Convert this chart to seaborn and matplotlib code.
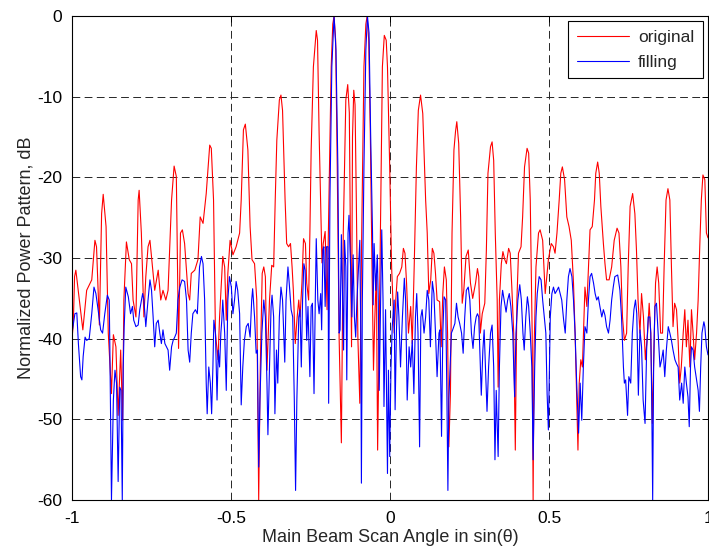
import numpy as np
import matplotlib
matplotlib.use('Agg')
import matplotlib.pyplot as plt
import seaborn as sns

# pattern values (sin(theta), dB)
orig_x = [-1.000, -0.996, -0.992, -0.988, -0.966, -0.954, -0.938, -0.928, -0.923, -0.914,
          -0.907, -0.902, -0.893, -0.886, -0.876, -0.870, -0.862, -0.855, -0.847, -0.841,
          -0.837, -0.829, -0.820, -0.813, -0.808, -0.799, -0.792, -0.789, -0.782, -0.774,
          -0.768, -0.761, -0.755, -0.747, -0.740, -0.729, -0.721, -0.714, -0.705, -0.698,
          -0.687, -0.679, -0.672, -0.665, -0.659, -0.653, -0.646, -0.635, -0.630, -0.625,
          -0.614, -0.604, -0.597, -0.588, -0.578, -0.567, -0.562, -0.555, -0.549, -0.541,
          -0.536, -0.526, -0.520, -0.515, -0.510, -0.503, -0.494, -0.484, -0.473,
          -0.468, -0.461, -0.455, -0.447, -0.440, -0.434, -0.426, -0.419, -0.413, -0.408,
          -0.402, -0.397, -0.392, -0.387, -0.379, -0.372, -0.366, -0.361, -0.356, -0.348,
          -0.343, -0.338, -0.330, -0.325, -0.319, -0.313, -0.308, -0.304, -0.298, -0.292,
          -0.287, -0.283, -0.277, -0.272, -0.266, -0.262, -0.256, -0.252, -0.248, -0.241,
          -0.232, -0.228, -0.223, -0.214, -0.210, -0.204, -0.198, -0.191, -0.185, -0.180,
          -0.176, -0.171, -0.166, -0.160, -0.153, -0.147, -0.139, -0.133, -0.128, -0.124,
          -0.121, -0.118, -0.114, -0.110, -0.106, -0.101, -0.095, -0.089, -0.082, -0.076,
          -0.072, -0.067, -0.062, -0.057, -0.052, -0.048, -0.043, -0.039, -0.034, -0.029,
          -0.024, -0.018, -0.012, -0.008, -0.001, 0.005, 0.013, 0.018, 0.023, 0.030,
          0.037, 0.042, 0.047, 0.052, 0.058, 0.065, 0.070, 0.076, 0.083, 0.089,
          0.096, 0.103, 0.112, 0.117, 0.122, 0.128, 0.133, 0.138, 0.143, 0.148,
          0.156, 0.161, 0.166, 0.171, 0.177, 0.181, 0.185, 0.190, 0.195, 0.201,
          0.206, 0.210, 0.216, 0.222, 0.227, 0.232, 0.239, 0.246, 0.253, 0.260,
          0.269, 0.275, 0.279, 0.284, 0.290, 0.298, 0.303, 0.308, 0.316, 0.321,
          0.326, 0.331, 0.337, 0.340, 0.344, 0.350, 0.355, 0.361, 0.366, 0.373,
          0.378, 0.383, 0.389, 0.394, 0.399, 0.404, 0.412, 0.417, 0.423, 0.431,
          0.436, 0.441, 0.447, 0.450, 0.453, 0.459, 0.467, 0.472, 0.480, 0.488,
          0.498, 0.507, 0.514, 0.519, 0.525, 0.532, 0.537, 0.542, 0.549, 0.556,
          0.563, 0.570, 0.577, 0.582, 0.587, 0.591, 0.595, 0.600, 0.605, 0.610,
          0.613, 0.619, 0.624, 0.629, 0.636, 0.643, 0.647, 0.653, 0.658, 0.663,
          0.671, 0.676, 0.681, 0.689, 0.697, 0.705, 0.714, 0.720, 0.726, 0.731,
          0.737, 0.744, 0.749, 0.755, 0.763, 0.770, 0.775, 0.780, 0.786, 0.791,
          0.797, 0.803, 0.810, 0.815, 0.820, 0.825, 0.831, 0.835, 0.840, 0.845,
          0.851, 0.857, 0.862, 0.868, 0.874, 0.880, 0.885, 0.890, 0.895, 0.901,
          0.906, 0.911, 0.916, 0.922, 0.927, 0.932, 0.937, 0.943, 0.948, 0.953,
          0.958, 0.964, 0.969, 0.974, 0.979, 0.984, 0.990, 0.995, 1.000]
orig_db = [-40.0, -38.1, -32.3, -31.5, -38.9, -34.0, -32.7, -27.8, -28.6, -38.3,
           -24.5, -22.1, -26.1, -39.3, -46.8, -39.5, -41.0, -49.5, -41.4, -50.1,
           -35.2, -28.0, -30.2, -30.7, -35.2, -37.3, -22.8, -21.6, -26.9, -37.3,
           -32.3, -28.6, -27.8, -31.1, -34.0, -31.5, -35.2, -34.0, -35.2, -34.0,
           -22.8, -18.6, -19.9, -41.2, -26.9, -26.5, -28.2, -34.4, -35.2, -31.9,
           -31.5, -30.2, -24.9, -25.7, -22.0, -16.0, -16.4, -22.8, -39.3, -42.6,
           -37.3, -29.8, -31.1, -37.7, -31.9, -27.8, -29.6, -28.6, -26.9,
           -22.8, -14.1, -13.4, -16.6, -26.1, -30.2, -30.7, -35.2, -60.0, -43.5,
           -31.9, -31.1, -32.3, -43.9, -35.2, -30.9, -31.1, -22.8, -15.4, -10.4,
           -9.8, -11.7, -22.8, -28.2, -28.6, -28.2, -31.1, -34.0, -40.6, -37.3,
           -35.2, -37.3, -33.1, -27.6, -28.2, -33.1, -35.2, -26.9, -16.6, -6.3,
           -1.8, -3.0, -14.5, -30.6, -28.2, -26.7, -36.4, -19.9, -6.3, -1.0,
           0.0, -3.0, -18.7, -40.0, -52.9, -26.9, -10.4, -8.5, -12.0, -30.0,
           -41.0, -15.0, -9.2, -11.0, -22.8, -40.0, -48.0, -26.9, -6.3, -1.0,
           0.0, -3.0, -14.5, -30.0, -43.9, -37.7, -31.9, -53.8, -39.3, -22.8,
           -6.3, -2.4, -3.0, -6.3, -18.7, -31.1, -39.3, -35.2, -32.3, -31.9,
           -31.1, -28.8, -29.4, -33.1, -39.3, -36.0, -40.6, -31.1, -18.7, -11.7,
           -9.8, -12.1, -22.8, -26.9, -34.4, -32.7, -28.8, -29.4, -31.9, -35.2,
           -35.4, -41.0, -34.4, -31.1, -32.7, -39.3, -53.4, -46.8, -26.9, -16.6,
           -14.3, -13.1, -15.8, -24.9, -35.6, -34.0, -29.8, -29.0, -33.1, -35.0,
           -33.1, -31.3, -32.3, -39.3, -36.9, -35.6, -29.0, -19.5, -16.2, -15.6,
           -17.9, -26.9, -35.2, -46.0, -35.2, -30.7, -29.2, -30.2, -30.7, -28.8,
           -29.4, -33.6, -39.3, -53.8, -35.2, -29.4, -28.6, -24.9, -18.7, -16.4,
           -17.0, -22.8, -39.3, -60.0, -41.4, -31.1, -26.9, -26.5, -27.8, -34.4,
           -30.2, -28.2, -28.6, -29.4, -26.9, -22.8, -19.5, -18.7, -20.3, -24.9,
           -26.1, -27.8, -33.1, -39.3, -47.6, -53.8, -45.5, -42.6, -43.5, -37.3,
           -33.6, -36.0, -31.1, -26.5, -26.1, -22.8, -19.5, -18.1, -19.5, -23.6,
           -28.2, -30.7, -32.7, -32.7, -31.1, -27.8, -26.3, -26.9, -31.1, -37.3,
           -40.2, -39.3, -31.1, -23.6, -22.0, -24.5, -29.0, -35.2, -39.3, -34.4,
           -37.3, -42.6, -39.3, -35.6, -39.3, -50.5, -39.3, -33.1, -31.1, -33.1,
           -39.3, -39.3, -31.1, -22.8, -21.4, -22.8, -31.1, -38.5, -35.6, -36.4,
           -40.2, -45.5, -43.5, -39.3, -36.4, -41.0, -37.7, -43.5, -36.4, -39.3,
           -42.6, -39.3, -35.2, -28.6, -22.8, -19.7, -20.3, -26.9, -27.5]

fill_x = [-1.000, -0.991, -0.985, -0.980, -0.973, -0.969, -0.965, -0.959, -0.954, -0.946,
          -0.938, -0.931, -0.925, -0.918, -0.910, -0.904, -0.897, -0.889, -0.883, -0.881,
          -0.876, -0.870, -0.865, -0.860, -0.855, -0.850, -0.846, -0.842, -0.839, -0.836,
          -0.831, -0.823, -0.816, -0.810, -0.806, -0.799, -0.792, -0.787, -0.778, -0.774,
          -0.768, -0.761, -0.755, -0.750, -0.745, -0.740, -0.735, -0.729, -0.724, -0.719,
          -0.714, -0.708, -0.703, -0.698, -0.693, -0.687, -0.682, -0.677, -0.672, -0.667,
          -0.661, -0.654, -0.646, -0.640, -0.635, -0.630, -0.625, -0.620, -0.612, -0.606,
          -0.599, -0.593, -0.588, -0.583, -0.578, -0.575, -0.570, -0.565, -0.561, -0.557,
          -0.554, -0.549, -0.544, -0.540, -0.536, -0.532, -0.529, -0.526, -0.520, -0.515,
          -0.510, -0.505, -0.499, -0.494, -0.489, -0.484, -0.479, -0.473, -0.468, -0.463,
          -0.458, -0.452, -0.446, -0.440, -0.435, -0.432, -0.426, -0.421, -0.417, -0.413,
          -0.409, -0.403, -0.397, -0.392, -0.387, -0.384, -0.379, -0.374, -0.371, -0.366,
          -0.362, -0.357, -0.353, -0.348, -0.343, -0.338, -0.331, -0.327, -0.321, -0.317,
          -0.311, -0.306, -0.301, -0.297, -0.293, -0.287, -0.283, -0.279, -0.275, -0.271,
          -0.267, -0.262, -0.258, -0.252, -0.248, -0.244, -0.239, -0.235, -0.232, -0.227,
          -0.223, -0.218, -0.215, -0.211, -0.208, -0.204, -0.200, -0.195, -0.193, -0.189,
          -0.183, -0.176, -0.170, -0.164, -0.160, -0.157, -0.153, -0.149, -0.146, -0.143,
          -0.139, -0.136, -0.132, -0.129, -0.124, -0.120, -0.116, -0.112, -0.108, -0.104,
          -0.099, -0.095, -0.092, -0.090, -0.087, -0.082, -0.076, -0.071, -0.066, -0.061,
          -0.055, -0.053, -0.050, -0.045, -0.040, -0.037, -0.034, -0.026, -0.022, -0.019,
          -0.014, -0.008, -0.005, -0.001, 0.003, 0.007, 0.013, 0.016, 0.020, 0.024,
          0.028, 0.033, 0.039, 0.045, 0.049, 0.054, 0.060, 0.065, 0.070, 0.075,
          0.080, 0.084, 0.088, 0.093, 0.097, 0.101, 0.107, 0.112, 0.117, 0.122,
          0.127, 0.133, 0.138, 0.143, 0.148, 0.154, 0.157, 0.162, 0.166, 0.170,
          0.175, 0.179, 0.182, 0.185, 0.189, 0.193, 0.197, 0.204, 0.209, 0.214,
          0.219, 0.225, 0.230, 0.235, 0.240, 0.246, 0.251, 0.256, 0.261, 0.266,
          0.271, 0.275, 0.279, 0.284, 0.287, 0.292, 0.296, 0.300, 0.305, 0.310,
          0.316, 0.321, 0.326, 0.330, 0.334, 0.340, 0.344, 0.349, 0.354, 0.359,
          0.365, 0.370, 0.375, 0.380, 0.386, 0.389, 0.392, 0.396, 0.402, 0.408,
          0.413, 0.418, 0.422, 0.427, 0.432, 0.436, 0.441, 0.446, 0.450, 0.455,
          0.459, 0.463, 0.469, 0.475, 0.480, 0.485, 0.490, 0.494, 0.498, 0.504,
          0.509, 0.514, 0.519, 0.525, 0.530, 0.535, 0.540, 0.546, 0.551, 0.556,
          0.561, 0.566, 0.572, 0.577, 0.582, 0.587, 0.593, 0.598, 0.603, 0.608,
          0.613, 0.619, 0.624, 0.629, 0.634, 0.640, 0.645, 0.650, 0.655, 0.660,
          0.666, 0.671, 0.676, 0.681, 0.687, 0.692, 0.697, 0.702, 0.707, 0.716,
          0.723, 0.728, 0.734, 0.737, 0.741, 0.744, 0.747, 0.751, 0.757, 0.762,
          0.767, 0.772, 0.776, 0.781, 0.786, 0.791, 0.796, 0.802, 0.807, 0.812,
          0.817, 0.820, 0.823, 0.826, 0.829, 0.833, 0.838, 0.843, 0.849, 0.854,
          0.859, 0.864, 0.869, 0.875, 0.880, 0.885, 0.890, 0.896, 0.901, 0.906,
          0.911, 0.917, 0.922, 0.927, 0.932, 0.937, 0.941, 0.945, 0.948, 0.953,
          0.958, 0.964, 0.969, 0.973, 0.977, 0.981, 0.987, 0.990, 0.995, 1.000]
fill_db = [-39.3, -36.9, -36.8, -40.6, -44.7, -45.1, -42.2, -39.8, -40.2, -40.0,
           -36.9, -33.6, -34.4, -36.4, -38.9, -39.3, -36.9, -34.6, -35.2, -41.4,
           -60.0, -47.6, -43.9, -45.5, -57.7, -46.0, -46.4, -60.0, -43.5, -38.5,
           -33.6, -34.8, -36.9, -36.0, -37.7, -38.5, -38.3, -36.4, -34.4, -35.2,
           -38.5, -35.2, -32.7, -34.0, -37.3, -41.0, -38.1, -37.7, -39.3, -40.6,
           -38.9, -40.6, -41.0, -41.4, -43.9, -41.0, -40.2, -39.8, -39.3, -35.2,
           -33.6, -32.7, -32.9, -35.2, -41.4, -42.9, -39.3, -36.9, -36.4, -36.9,
           -31.1, -29.8, -30.7, -35.2, -45.5, -49.3, -43.5, -45.5, -49.3, -43.5,
           -37.7, -39.3, -47.6, -41.4, -43.5, -39.3, -37.7, -35.2, -39.3, -46.4,
           -35.2, -32.3, -33.6, -36.9, -35.2, -32.9, -34.0, -36.9, -48.2, -43.5,
           -40.2, -38.5, -38.1, -39.8, -35.2, -33.8, -37.3, -41.8, -41.4, -55.9,
           -47.6, -39.3, -35.2, -37.3, -45.5, -51.9, -43.5, -36.0, -34.6, -37.3,
           -49.3, -41.4, -45.5, -37.3, -33.6, -35.2, -42.9, -35.2, -31.1, -33.1,
           -36.4, -37.3, -47.6, -58.8, -47.6, -37.3, -36.4, -43.5, -35.2, -30.7,
           -31.5, -40.2, -36.0, -44.7, -36.0, -35.6, -46.8, -35.2, -27.6, -35.2,
           -36.9, -34.4, -38.9, -29.0, -28.6, -36.0, -28.6, -28.6, -48.0, -22.8,
           -6.3, 0.0, -4.2, -18.7, -39.3, -38.9, -27.1, -35.2, -41.4, -27.8,
           -31.1, -45.1, -26.9, -24.7, -31.1, -37.3, -29.6, -37.3, -39.8, -35.2,
           -31.1, -27.8, -39.3, -57.9, -35.2, -18.7, -4.2, 0.0, -2.1, -14.5,
           -26.9, -35.8, -28.2, -34.0, -29.6, -35.2, -46.4, -26.5, -35.2, -48.4,
           -36.4, -56.7, -43.9, -54.6, -43.5, -38.5, -35.2, -48.8, -39.3, -34.2,
           -37.3, -43.5, -37.3, -32.5, -35.2, -47.6, -41.0, -43.5, -40.2, -46.8,
           -37.3, -34.4, -39.3, -53.4, -37.3, -36.4, -39.3, -37.3, -34.0, -35.2,
           -41.0, -32.9, -34.4, -39.3, -44.7, -39.3, -38.9, -52.1, -39.3, -34.8,
           -35.2, -47.6, -58.8, -47.6, -43.5, -39.3, -38.9, -38.1, -35.6, -37.3,
           -38.1, -39.3, -41.8, -37.3, -34.0, -33.6, -35.2, -39.3, -41.2, -38.5,
           -37.3, -36.9, -37.3, -43.5, -47.0, -41.4, -38.9, -43.5, -49.0, -43.5,
           -39.3, -38.3, -43.5, -55.0, -46.4, -54.6, -43.5, -36.0, -34.0, -35.2,
           -36.7, -35.2, -34.4, -36.0, -39.3, -43.5, -47.2, -39.3, -35.2, -33.3,
           -35.2, -39.3, -41.4, -37.3, -34.8, -36.0, -39.3, -43.5, -55.0, -43.5,
           -37.3, -34.4, -32.3, -32.7, -35.2, -37.3, -39.3, -46.8, -51.3, -37.3,
           -34.4, -33.6, -34.4, -34.0, -33.6, -34.4, -35.2, -37.7, -39.3, -35.2,
           -32.3, -31.3, -32.3, -35.2, -39.3, -45.5, -51.7, -45.5, -50.1, -43.5,
           -38.5, -39.3, -35.2, -32.3, -31.9, -33.1, -34.4, -35.2, -34.8, -36.0,
           -37.3, -36.4, -37.1, -38.5, -39.3, -37.7, -35.2, -33.6, -32.3, -32.1,
           -34.0, -37.3, -43.5, -45.5, -45.1, -47.2, -49.5, -44.7, -45.5, -39.3,
           -36.4, -35.2, -36.9, -47.0, -38.9, -41.0, -47.6, -50.5, -41.4, -37.3,
           -37.3, -39.3, -47.6, -60.0, -43.5, -36.0, -35.6, -39.3, -43.5, -42.6,
           -41.4, -44.7, -41.4, -38.5, -39.3, -40.2, -41.4, -42.6, -43.1, -43.5,
           -47.6, -45.5, -48.0, -43.5, -45.5, -47.2, -50.9, -43.5, -41.0, -41.4,
           -43.5, -45.1, -46.4, -49.0, -43.5, -39.3, -37.9, -38.5, -41.0, -42.0]

x_ticks = [-1, -0.5, 0, 0.5, 1]
x_ticklabels = ['-1', '-0.5', '0', '0.5', '1']
y_ticks = [-60, -50, -40, -30, -20, -10, 0]

sns.set_style('white')
plt.rcParams['font.family'] = ['Liberation Sans', 'DejaVu Sans']
plt.rcParams['axes.unicode_minus'] = False

fig, ax = plt.subplots(figsize=(7.09, 5.52), dpi=100)
fig.subplots_adjust(left=0.1016, right=0.9986, bottom=0.094, top=0.971)

sns.lineplot(x=orig_x, y=orig_db, color='#ff0000', lw=0.8, label='original',
             estimator=None, sort=False, ax=ax)
sns.lineplot(x=fill_x, y=fill_db, color='#0000ff', lw=0.8, label='filling',
             estimator=None, sort=False, ax=ax)

ax.set_xlim(-1, 1)
ax.set_ylim(-60, 0)
ax.set_xticks(x_ticks)
ax.set_xticklabels(x_ticklabels)
ax.set_yticks(y_ticks)
ax.grid(True, color='0.15', ls=(0, (8, 4.5)), lw=0.7)
ax.tick_params(direction='in', top=True, right=True, length=4, width=0.7,
               labelsize=12.5, colors='k')
ax.tick_params(axis='x', pad=8)
ax.tick_params(axis='y', pad=7)
for s in ax.spines.values():
    s.set_visible(True)
    s.set_color('k')
    s.set_linewidth(0.8)

ax.set_xlabel('Main Beam Scan Angle in sin(\u03b8)', fontsize=13, labelpad=2)
ax.set_ylabel('Normalized Power Pattern, dB', fontsize=13, labelpad=2)

leg = ax.legend(loc='upper right', fontsize=12.5, frameon=True, fancybox=False,
                edgecolor='k', framealpha=1, borderaxespad=0.3, handlelength=3.0,
                borderpad=0.5, labelspacing=0.55, handletextpad=0.5)
leg.get_frame().set_linewidth(0.8)

plt.savefig('out.png', dpi=100)
